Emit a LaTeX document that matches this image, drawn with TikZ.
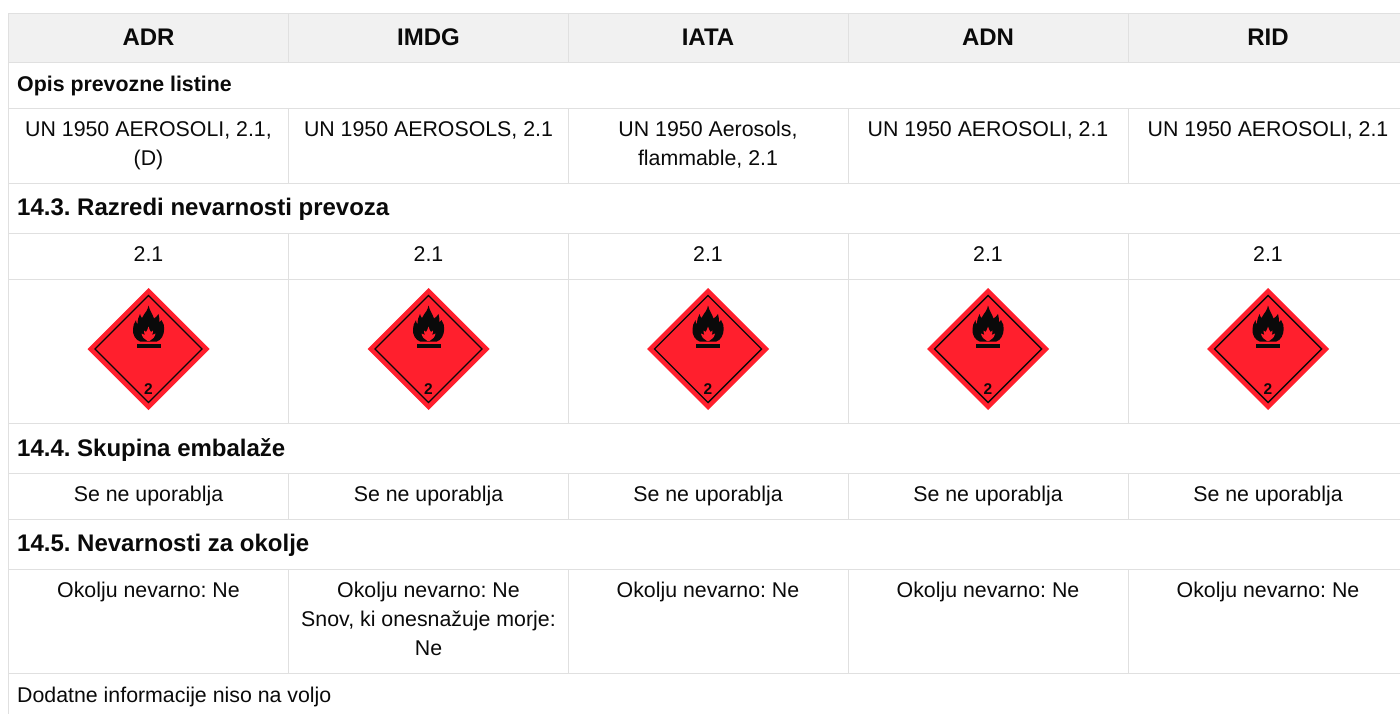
\documentclass[tikz,border=0pt]{standalone}
\usepackage{fontspec}
\setmainfont{Liberation Sans}
\frenchspacing
\definecolor{gridc}{HTML}{E0E0E0}
\definecolor{headc}{HTML}{F1F1F1}
\definecolor{placard}{HTML}{FF1F2D}
\definecolor{inkc}{HTML}{0A0A0A}
\tikzset{
  gridline/.style={draw=gridc,line width=1.5pt},
  headtext/.style={font=\fontsize{24}{28}\selectfont\bfseries,anchor=base,inner sep=0pt,text=inkc},
  celltext/.style={font=\fontsize{21.33}{29}\selectfont,anchor=base,align=center,inner sep=0pt,text=inkc},
  lefttext/.style={font=\fontsize{21.33}{26}\selectfont,anchor=base west,inner sep=0pt,text=inkc},
  sectext/.style={font=\fontsize{24}{28}\selectfont\bfseries,anchor=base west,inner sep=0pt,text=inkc},
  subtext/.style={font=\fontsize{21.33}{26}\selectfont\bfseries,anchor=base west,inner sep=0pt,text=inkc},
}
\begin{document}
\begin{tikzpicture}[x=1pt,y=-1pt]
\useasboundingbox (0,0) rectangle (1400,714);
\fill[headc] (8,13) rectangle (1400,62);
% horizontal rules
\foreach \yy in {13,62,108,183,233,279,423,473,519,569,673}
  \draw[gridline] (8,\yy+.5) -- (1400,\yy+.5);
% vertical rules
\draw[gridline] (8.5,13) -- (8.5,714);
\foreach \xx in {288.5,568.5,848.5,1128.5}{
  \draw[gridline] (\xx,13) -- (\xx,62);
  \draw[gridline] (\xx,108) -- (\xx,183);
  \draw[gridline] (\xx,233) -- (\xx,423);
  \draw[gridline] (\xx,473) -- (\xx,519);
  \draw[gridline] (\xx,569) -- (\xx,673);
}
% header
\foreach \cx/\nm/\lab in {148.5/a/ADR,428.5/b/IMDG,708/c/IATA,988/d/ADN,1268/e/RID}
  \node[headtext] (head\nm) at (\cx,45.5) {\lab};
% section titles
\node[subtext] (opis) at (17,91.5) {Opis prevozne listine};
\node[sectext] (sec3) at (17,215.5) {14.3. Razredi nevarnosti prevoza};
\node[sectext] (sec4) at (17,456) {14.4. Skupina embalaže};
\node[sectext] (sec5) at (17,551) {14.5. Nevarnosti za okolje};
\node[lefttext] (extra) at (17,702.5) {Dodatne informacije niso na voljo};
% shipping names
\node[celltext] (na) at (148.5,165.5) {UN 1950 AEROSOLI, 2.1,\\(D)};
\node[celltext] (nb) at (428.5,136.5) {UN 1950 AEROSOLS, 2.1};
\node[celltext] (nc) at (708,165.5) {UN 1950 Aerosols,\\flammable, 2.1};
\node[celltext] (nd) at (988,136.5) {UN 1950 AEROSOLI, 2.1};
\node[celltext] (ne) at (1268,136.5) {UN 1950 AEROSOLI, 2.1};
% classes, groups
\foreach \cx/\nm in {148.5/a,428.5/b,708/c,988/d,1268/e}{
  \node[celltext] (cls\nm) at (\cx,261.5) {2.1};
  \node[celltext] (grp\nm) at (\cx,501.5) {Se ne uporablja};
  \begin{scope}[shift={(\cx,349)}]
    \fill[placard] (0,-61) -- (61,0) -- (0,61) -- (-61,0) -- cycle;
    \draw[inkc,line width=1.4pt,line join=miter] (0,-53.5) -- (53.5,0) -- (0,53.5) -- (-53.5,0) -- cycle;
    % flame
    \fill[inkc] (-8,-7.3) .. controls (-13,-9) and (-16,-14) .. (-15.5,-20)
      .. controls (-15.5,-23) and (-14.5,-26) .. (-12.5,-29)
      .. controls (-12.5,-27) and (-12,-26) .. (-11,-25)
      .. controls (-11,-29) and (-10,-32) .. (-8.5,-35)
      .. controls (-8,-33) and (-7.5,-32) .. (-6.5,-31)
      .. controls (-5.5,-34) and (-3,-36) .. (-2,-38)
      .. controls (-1,-40) and (-.3,-41.5) .. (0,-43.5)
      .. controls (.8,-40) and (2,-38) .. (3,-36)
      .. controls (4,-34) and (5,-32.5) .. (5.5,-30.5)
      .. controls (7,-31.5) and (9,-33) .. (10,-35)
      .. controls (11,-32) and (11,-29) .. (10.8,-26.5)
      .. controls (11.8,-27) and (12.5,-28) .. (13,-29)
      .. controls (15,-26) and (16,-23) .. (15.7,-20)
      .. controls (15.5,-14) and (13,-9) .. (8,-7.3) -- cycle;
    \fill[placard] (0,-22.5) .. controls (.5,-20) and (1.5,-18.5) .. (2.5,-17)
      .. controls (3.5,-17.5) and (4,-18) .. (4.5,-18.5)
      .. controls (4.5,-16) and (4,-15) .. (3.5,-14)
      .. controls (5,-14.5) and (6,-15) .. (7,-15.5)
      .. controls (6.5,-12) and (4,-9.5) .. (1,-8) -- (-1,-8)
      .. controls (-4,-9.5) and (-6.5,-12) .. (-7,-15.5)
      .. controls (-6,-15) and (-5,-14.5) .. (-3.5,-14)
      .. controls (-4,-15) and (-4.5,-16) .. (-4.5,-18.5)
      .. controls (-4,-18) and (-3.5,-17.5) .. (-2.5,-17)
      .. controls (-1.5,-18.5) and (-.5,-20) .. (0,-22.5) -- cycle;
    \fill[inkc] (-12,-4.7) rectangle (12,-1.4);
    \node[font=\fontsize{15.5}{17}\selectfont\bfseries,anchor=base,inner sep=0pt,text=inkc] (num\nm) at (0,45.5) {2};
  \end{scope}
}
% environment
\node[celltext] (ea) at (148.5,597.5) {Okolju nevarno: Ne};
\node[celltext] (eb) at (428.5,655.5) {Okolju nevarno: Ne\\Snov, ki onesnažuje morje:\\Ne};
\node[celltext] (ec) at (708,597.5) {Okolju nevarno: Ne};
\node[celltext] (ed) at (988,597.5) {Okolju nevarno: Ne};
\node[celltext] (ee) at (1268,597.5) {Okolju nevarno: Ne};
\end{tikzpicture}
\end{document}
